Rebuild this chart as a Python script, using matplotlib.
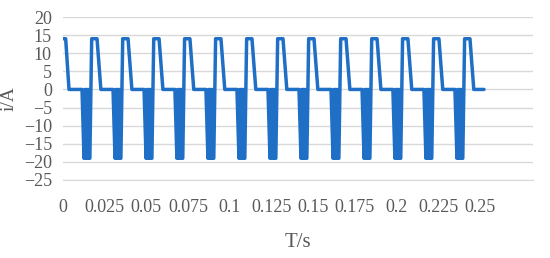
import matplotlib
matplotlib.use("Agg")
import matplotlib.pyplot as plt

# ── Data ─────────────────────────────────────────────────────────────────────
# start times (s) of each negative current spike
SPIKE_STARTS = [0.0114, 0.0300, 0.0486, 0.0671, 0.0857, 0.1043, 0.1229,
                0.1415, 0.1607, 0.1793, 0.1978, 0.2164, 0.2350]
# one cycle of the waveform, offsets (s) from the spike start and current (A)
CYCLE_DT = [0.0, 0.0012, 0.0017, 0.0022, 0.0027, 0.0032, 0.0037, 0.0042,
            0.0047, 0.0058, 0.0090, 0.0113]
CYCLE_I = [0, -19, 0, -19, 0, -19, 0, -19, -19, 14, 14, 0]
# opening peak and the trailing flat part
START_T = [0.0, 0.0016, 0.0036]
START_I = [14, 14, 0]
END_T = [0.2524]
END_I = [0]

X_TICKS = [0, 0.025, 0.05, 0.075, 0.1, 0.125, 0.15, 0.175, 0.2, 0.225, 0.25]
X_TICK_LABELS = ["0", "0.025", "0.05", "0.075", "0.1", "0.125", "0.15",
                 "0.175", "0.2", "0.225", "0.25"]
Y_TICKS = [20, 15, 10, 5, 0, -5, -10, -15, -20, -25]

t = list(START_T)
i = list(START_I)
for s in SPIKE_STARTS:
    t += [s + d for d in CYCLE_DT]
    i += CYCLE_I
t += END_T
i += END_I

plt.rcParams["font.family"] = ["Liberation Serif", "DejaVu Serif"]
TXT = "#595959"
GRID = "#d9d9d9"

fig = plt.figure(figsize=(5.5, 2.58), dpi=100)
ax = fig.add_axes([63 / 550, 78 / 258, 470 / 550, 163 / 258])

ax.plot(t, i, color="#1f6fc6", lw=2.5, solid_joinstyle="round",
        solid_capstyle="round", zorder=3)

ax.set_xlim(0, 0.2818)
ax.set_ylim(-25, 20)
ax.set_xticks(X_TICKS)
ax.set_xticklabels(X_TICK_LABELS)
ax.set_yticks(Y_TICKS)
ax.yaxis.grid(True, color=GRID, lw=1.0)
ax.set_axisbelow(True)
for side in ["top", "right", "left"]:
    ax.spines[side].set_visible(False)
ax.spines["bottom"].set_color(GRID)
ax.tick_params(axis="both", length=0, colors=TXT, labelsize=13)
ax.tick_params(axis="x", pad=14)
ax.tick_params(axis="y", pad=8)

ax.set_ylabel("i/A", color=TXT, fontsize=14, labelpad=4)
ax.set_xlabel("T/s", color=TXT, fontsize=15, labelpad=12)

fig.savefig("out.png", dpi=100)
